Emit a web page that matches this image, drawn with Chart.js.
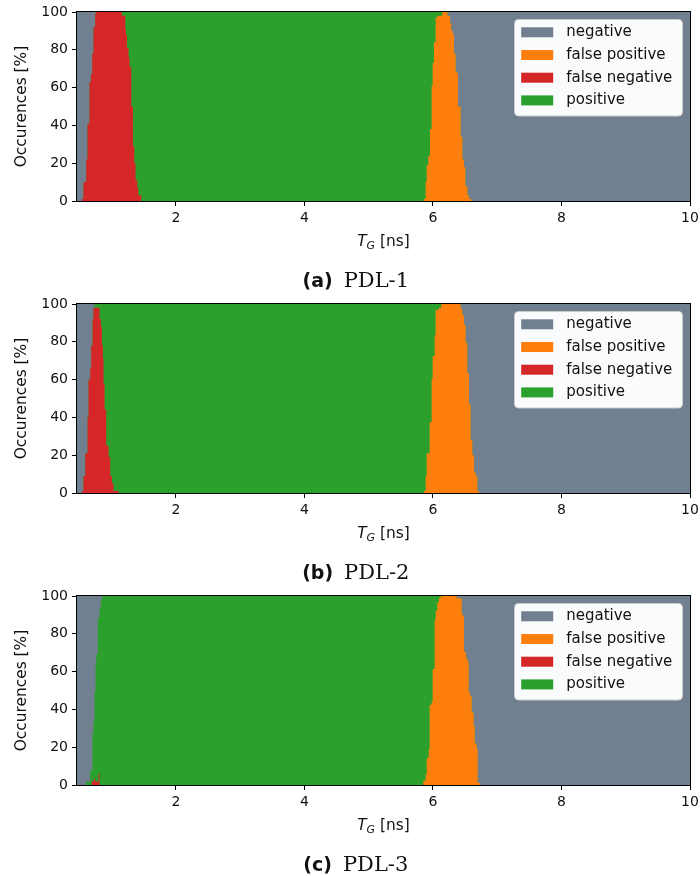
<!DOCTYPE html>
<html>
<head>
<meta charset="utf-8">
<script src="https://cdn.jsdelivr.net/npm/chart.js@4.4.1/dist/chart.umd.min.js"></script>
<style>
  html, body { margin: 0; padding: 0; background: #fff; }
  #wrap { position: relative; width: 700px; height: 876px; }
  canvas { position: absolute; left: 0; }
</style>
</head>
<body>
<div id="wrap">
  <canvas id="pdl1" width="700" height="292" style="top:0px"></canvas>
  <canvas id="pdl2" width="700" height="292" style="top:292px"></canvas>
  <canvas id="pdl3" width="700" height="292" style="top:584px"></canvas>
</div>
<script>
// T_G axis [ns]
const xMin = 0.46, xMax = 10;
const xTicks = [2, 4, 6, 8, 10];
const yTicks = [0, 20, 40, 60, 80, 100];

const classNames = ['negative', 'false positive', 'false negative', 'positive'];
const classColors = ['#708090', '#ff7f0e', '#d62728', '#2ca02c'];

// everything up to 100 % not covered by the other classes is "negative"
const negTop = [[xMin, 100], [xMax, 100]];

// [T_G, %] steps, a value holds until the next point
// positive = upper edge of the non-negative part (red/orange drawn over it)

// PDL-1
const posA = [[0.46,0],[0.536,1],[0.561,10],[0.603,22],[0.623,41],[0.654,63],[0.676,67],[0.697,78],[0.717,92],[0.743,99],[0.76,100],
  [6.224,98],[6.265,94],[6.286,90],[6.311,88],[6.327,78],[6.353,68],[6.389,50],[6.431,34],[6.458,22],[6.483,18],[6.504,8],[6.536,3],[6.561,1],[6.598,0],[10,0]];
const fnA = [[0.46,0],[0.536,1],[0.561,10],[0.603,22],[0.623,41],[0.654,63],[0.676,67],[0.697,78],[0.717,92],[0.743,99],[0.76,100],
  [1.159,98],[1.211,91],[1.221,88],[1.237,81],[1.262,76],[1.278,71],[1.304,50],[1.331,29],[1.351,20],[1.371,11],[1.398,7],[1.413,3],[1.46,0],[10,0]];
const fpA = [[0.46,0],[5.859,1],[5.886,10],[5.902,19],[5.928,24],[5.953,38],[5.979,61],[5.995,73],[6.015,84],[6.042,97],[6.068,98],[6.146,100],
  [6.224,98],[6.265,94],[6.286,90],[6.311,88],[6.327,78],[6.353,68],[6.389,50],[6.431,34],[6.458,22],[6.483,18],[6.504,8],[6.536,3],[6.561,1],[6.598,0],[10,0]];

// PDL-2
const posB = [[0.46,0],[0.536,1],[0.561,9],[0.588,21],[0.624,40],[0.639,60],[0.665,66],[0.681,78],[0.702,92],[0.717,98],[0.733,100],
  [6.431,97.5],[6.457,94],[6.483,89],[6.509,79.5],[6.535,63.5],[6.561,47],[6.587,28],[6.613,20],[6.639,11],[6.665,9],[6.691,1],[6.717,0],[10,0]];
const fnB = [[0.46,0],[0.536,1],[0.561,9],[0.588,21],[0.624,40],[0.639,60],[0.665,66],[0.681,78],[0.702,92],[0.717,98],
  [0.811,92],[0.832,88],[0.847,78],[0.863,71],[0.873,58],[0.889,44],[0.915,25],[0.951,19],[0.977,9],[1.003,5],[1.029,1],[1.107,0],[10,0]];
const fpB = [[0.46,0],[5.86,1],[5.886,9],[5.902,21],[5.948,37.5],[5.979,60.5],[5.995,72.5],[6.026,83.5],[6.042,97],[6.094,98],[6.13,100],
  [6.431,97.5],[6.457,94],[6.483,89],[6.509,79.5],[6.535,63.5],[6.561,47],[6.587,28],[6.613,20],[6.639,11],[6.665,9],[6.691,1],[6.717,0],[10,0]];

// PDL-3
const posC = [[0.46,0],[0.603,2],[0.665,8],[0.702,27.5],[0.717,33.7],[0.733,49.6],[0.749,63.7],[0.759,69],[0.785,88.4],[0.811,93.3],[0.832,98],[0.852,100],
  [6.369,98.8],[6.447,91],[6.463,89.4],[6.483,70.5],[6.515,67.5],[6.535,65.3],[6.556,49.4],[6.577,47],[6.603,38.3],[6.634,31.2],[6.65,22],[6.681,19],[6.696,1.1],[6.733,0],[10,0]];
const fnC = [[0.46,0],[0.691,2],[0.723,3.5],[0.738,2],[0.78,1.5],[0.795,6],[0.811,0],[10,0]];
const fpC = [[0.46,0],[5.85,2.3],[5.886,5.5],[5.902,14.3],[5.933,18.7],[5.948,42.5],[5.979,44],[5.995,61.4],[6.026,87],[6.042,92],[6.068,96.8],[6.094,99],[6.12,100],
  [6.369,98.8],[6.447,91],[6.463,89.4],[6.483,70.5],[6.515,67.5],[6.535,65.3],[6.556,49.4],[6.577,47],[6.603,38.3],[6.634,31.2],[6.65,22],[6.681,19],[6.696,1.1],[6.733,0],[10,0]];

const captionTags = ['(a)', '(b)', '(c)'];
const captionNames = ['PDL-1', 'PDL-2', 'PDL-3'];

const FONT = 'DejaVu Sans';
const TXT = '#111';

// box round the axes
const frame = {
  id: 'frame',
  afterDatasetsDraw(c) {
    const a = c.chartArea, ctx = c.ctx;
    ctx.save();
    ctx.strokeStyle = '#000';
    ctx.lineWidth = 1;
    ctx.strokeRect(a.left - 0.5, a.top - 0.5, a.right - a.left + 1, a.bottom - a.top + 1);
    ctx.restore();
  }
};

// matplotlib style legend, upper right
const legendBox = {
  id: 'legendBox',
  afterDraw(c) {
    const a = c.chartArea, ctx = c.ctx;
    const w = 168, h = 96.5, x0 = a.right - 7.5 - w, y0 = a.top + 7.5;
    ctx.save();
    ctx.beginPath();
    ctx.roundRect(x0, y0, w, h, 4);
    ctx.fillStyle = 'rgba(255,255,255,0.97)';
    ctx.fill();
    ctx.strokeStyle = '#cccccc';
    ctx.lineWidth = 1;
    ctx.stroke();
    ctx.font = '15px "' + FONT + '"';
    ctx.textBaseline = 'middle';
    classNames.forEach((n, i) => {
      const cy = y0 + 12.8 + i * 22.7;
      ctx.fillStyle = classColors[i];
      ctx.fillRect(x0 + 6.7, cy - 5, 32, 10);
      ctx.fillStyle = TXT;
      ctx.fillText(n, x0 + 51.7, cy);
    });
    ctx.restore();
  }
};

// x axis title with subscript
const xTitle = {
  id: 'xTitle',
  afterDraw(c) {
    const a = c.chartArea, ctx = c.ctx;
    ctx.save();
    ctx.fillStyle = TXT;
    ctx.textBaseline = 'alphabetic';
    const fT = 'italic 15.4px "' + FONT + '"', fG = 'italic 11px "' + FONT + '"', fR = '15.4px "' + FONT + '"';
    ctx.font = fT; const wT = ctx.measureText('T').width;
    ctx.font = fG; const wG = ctx.measureText('G').width;
    ctx.font = fR; const wR = ctx.measureText(' [ns]').width;
    let x = (a.left + a.right) / 2 - (wT + wG + wR) / 2;
    const by = a.bottom + 45;
    ctx.font = fT; ctx.fillText('T', x, by); x += wT;
    ctx.font = fG; ctx.fillText('G', x, by + 3); x += wG;
    ctx.font = fR; ctx.fillText(' [ns]', x, by);
    ctx.restore();
  }
};

function caption(tag, name) {
  return {
    id: 'caption',
    afterDraw(c) {
      const a = c.chartArea, ctx = c.ctx;
      ctx.save();
      ctx.fillStyle = TXT;
      ctx.textBaseline = 'alphabetic';
      const fTag = 'bold 19px "' + FONT + '"', fName = '21px "DejaVu Serif"';
      ctx.font = fTag; const w1 = ctx.measureText(tag).width;
      ctx.font = fName; const w2 = ctx.measureText(name).width;
      const gap = 11;
      let x = 355.8 - (w1 + gap + w2) / 2;
      const by = a.bottom + 86;
      ctx.font = fTag; ctx.fillText(tag, x, by);
      ctx.font = fName; ctx.fillText(name, x + w1 + gap, by);
      ctx.restore();
    }
  };
}

function area(label, pts, color, order) {
  return {
    label: label,
    data: pts.map(p => ({x: p[0], y: p[1]})),
    backgroundColor: color,
    borderColor: 'rgba(0,0,0,0)',
    borderWidth: 0,
    pointRadius: 0,
    stepped: true,
    fill: 'origin',
    order: order
  };
}

function panel(id, pos, fn, fp, k) {
  const tickFont = {family: FONT, size: 14};
  new Chart(document.getElementById(id), {
    type: 'line',
    data: {
      datasets: [
        area(classNames[0], negTop, classColors[0], 4),
        area(classNames[1], fp, classColors[1], 1),
        area(classNames[2], fn, classColors[2], 2),
        area(classNames[3], pos, classColors[3], 3)
      ]
    },
    options: {
      responsive: false,
      animation: false,
      layout: {padding: {top: 12, right: 10, left: 0, bottom: 0}},
      plugins: {legend: {display: false}, tooltip: {enabled: false}},
      scales: {
        x: {
          type: 'linear', min: xMin, max: xMax,
          afterBuildTicks: s => { s.ticks = xTicks.map(v => ({value: v})); },
          afterFit: s => { s.height = 91; s.paddingLeft = 0; s.paddingRight = 0; },
          grid: {drawOnChartArea: false, tickLength: 5, tickColor: '#000'},
          border: {display: false},
          ticks: {color: TXT, padding: 4, font: tickFont, maxRotation: 0}
        },
        y: {
          min: 0, max: 100,
          afterBuildTicks: s => { s.ticks = yTicks.map(v => ({value: v})); },
          afterFit: s => { s.width = 77; s.paddingTop = 0; s.paddingBottom = 0; },
          grid: {drawOnChartArea: false, tickLength: 5, tickColor: '#000'},
          border: {display: false},
          ticks: {color: TXT, padding: 4, font: tickFont},
          title: {display: true, text: 'Occurences [%]', color: TXT, font: {family: FONT, size: 15.4}, padding: {top: 12.5, bottom: 0}}
        }
      }
    },
    plugins: [frame, legendBox, xTitle, caption(captionTags[k], captionNames[k])]
  });
}

panel('pdl1', posA, fnA, fpA, 0);
panel('pdl2', posB, fnB, fpB, 1);
panel('pdl3', posC, fnC, fpC, 2);
</script>
</body>
</html>
